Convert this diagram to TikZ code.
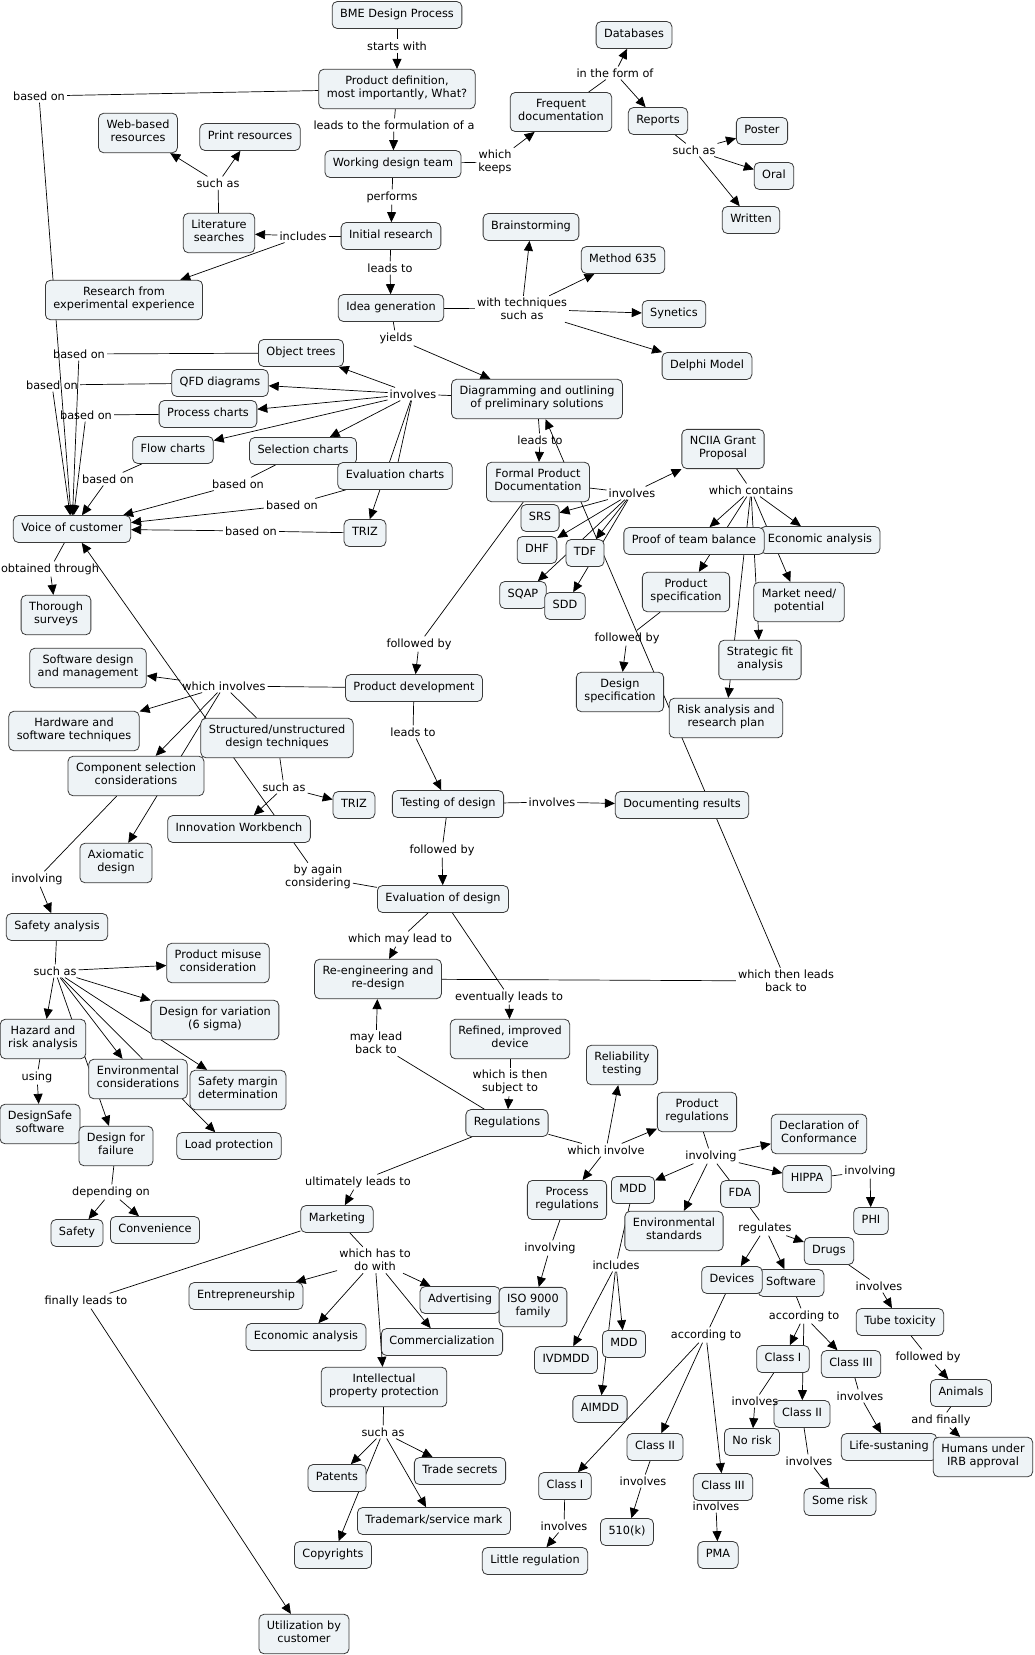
\documentclass[tikz,border=0pt]{standalone}
\usepackage{fontspec}
\setmainfont{DejaVu Sans}
\usetikzlibrary{arrows.meta}
\pgfdeclarelayer{bg}
\pgfsetlayers{bg,main}
\definecolor{cmapfill}{HTML}{EEF3F6}
\definecolor{cmapline}{HTML}{3A3A3A}

\begin{document}
\begin{tikzpicture}[x=1pt,y=-1pt]

\tikzset{concept/.style={draw=cmapline, fill=cmapfill, rounded corners=5pt, line width=0.8pt,
    align=center, inner xsep=8pt, inner ysep=6.8pt, font=\fontsize{11.3}{13.3}\selectfont,
    execute at begin node=\strut, execute at end node=\strut},
  link/.style={align=center, inner sep=2pt, font=\fontsize{11.3}{13.3}\selectfont},
  conn/.style={line width=0.7pt},
  arr/.style={conn, -{Triangle[length=10pt,width=9pt]}}}

\useasboundingbox (0,0) rectangle (1035,1655);

% concepts
\node[concept] (bme) at (397,15) {BME Design Process};
\node[concept] (proddef) at (397,89) {Product definition,\\most importantly, What?};
\node[concept] (team) at (393,164) {Working design team};
\node[concept] (freqdoc) at (561,112) {Frequent\\documentation};
\node[concept] (databases) at (634,35) {Databases};
\node[concept] (reports) at (658,121) {Reports};
\node[concept] (poster) at (762,131) {Poster};
\node[concept] (oral) at (774,176) {Oral};
\node[concept] (written) at (751,220) {Written};
\node[concept] (webres) at (138,133) {Web-based\\resources};
\node[concept] (printres) at (250,137) {Print resources};
\node[concept] (litsearch) at (219,233) {Literature\\searches};
\node[concept] (initres) at (391,236) {Initial research};
\node[concept] (expres) at (124,300) {Research from\\experimental experience};
\node[concept] (ideagen) at (391,308) {Idea generation};
\node[concept] (brainstorm) at (531,227) {Brainstorming};
\node[concept] (method) at (623,260) {Method 635};
\node[concept] (synetics) at (674,314) {Synetics};
\node[concept] (delphi) at (707,366) {Delphi Model};
\node[concept] (diagram) at (537,399) {Diagramming and outlining\\of preliminary solutions};
\node[concept] (objtrees) at (301,353) {Object trees};
\node[concept] (qfd) at (220,383) {QFD diagrams};
\node[concept] (procch) at (208,414) {Process charts};
\node[concept] (flowch) at (173,450) {Flow charts};
\node[concept] (selch) at (303,451) {Selection charts};
\node[concept] (evalch) at (395,476) {Evaluation charts};
\node[concept] (trizA) at (365,533) {TRIZ};
\node[concept] (voc) at (72,529) {Voice of customer};
\node[concept] (surveys) at (56,615) {Thorough\\surveys};
\node[concept] (formaldoc) at (538,482) {Formal Product\\Documentation};
\node[concept] (srs) at (540,518) {SRS};
\node[concept] (dhf) at (537,550) {DHF};
\node[concept] (tdf) at (585,553) {TDF};
\node[concept] (sqap) at (523,595) {SQAP};
\node[concept] (sdd) at (565,606) {SDD};
\node[concept] (nciia) at (723,449) {NCIIA Grant\\Proposal};
\node[concept] (econA) at (820,540) {Economic analysis};
\node[concept] (teambal) at (694,541) {Proof of team balance};
\node[concept] (prodspec) at (686,592) {Product\\specification};
\node[concept] (market) at (799,602) {Market need/\\potential};
\node[concept] (stratfit) at (760,660) {Strategic fit\\analysis};
\node[concept] (designspec) at (620,692) {Design\\specification};
\node[concept] (riskplan) at (726,718) {Risk analysis and\\research plan};
\node[concept] (proddev) at (414,688) {Product development};
\node[concept] (swdesign) at (88,668) {Software design\\and management};
\node[concept] (hwsw) at (74,731) {Hardware and\\software techniques};
\node[concept] (structd) at (277,738) {Structured/unstructured\\design techniques};
\node[concept] (compsel) at (136,776) {Component selection\\considerations};
\node[concept] (trizB) at (354,805) {TRIZ};
\node[concept] (innovwb) at (239,829) {Innovation Workbench};
\node[concept] (axiom) at (116,863) {Axiomatic\\design};
\node[concept] (safety) at (57,927) {Safety analysis};
\node[concept] (misuse) at (218,963) {Product misuse\\consideration};
\node[concept] (variation) at (215,1020) {Design for variation\\(6 sigma)};
\node[concept] (hazard) at (43,1039) {Hazard and\\risk analysis};
\node[concept] (envcons) at (138,1079) {Environmental\\considerations};
\node[concept] (safemargin) at (238,1090) {Safety margin\\determination};
\node[concept] (designsafe) at (40,1124) {DesignSafe\\software};
\node[concept] (dfail) at (116,1146) {Design for\\failure};
\node[concept] (loadprot) at (229,1146) {Load protection};
\node[concept] (safetyB) at (77,1233) {Safety};
\node[concept] (conven) at (155,1230) {Convenience};
\node[concept] (testing) at (448,804) {Testing of design};
\node[concept] (docres) at (682,805) {Documenting results};
\node[concept] (evaldes) at (443,899) {Evaluation of design};
\node[concept] (reeng) at (378,979) {Re-engineering and\\re-design};
\node[concept] (refined) at (510,1039) {Refined, improved\\device};
\node[concept] (reliab) at (622,1065) {Reliability\\testing};
\node[concept] (regs) at (507,1123) {Regulations};
\node[concept] (prodregs) at (697,1112) {Product\\regulations};
\node[concept] (declconf) at (819,1134) {Declaration of\\Conformance};
\node[concept] (hippa) at (807,1179) {HIPPA};
\node[concept] (phi) at (871,1221) {PHI};
\node[concept] (fda) at (740,1194) {FDA};
\node[concept] (mddA) at (633,1190) {MDD};
\node[concept] (procregs) at (567,1200) {Process\\regulations};
\node[concept] (envstd) at (674,1231) {Environmental\\standards};
\node[concept] (drugs) at (829,1251) {Drugs};
\node[concept] (software) at (791,1283) {Software};
\node[concept] (devices) at (732,1280) {Devices};
\node[concept] (tube) at (900,1322) {Tube toxicity};
\node[concept] (animals) at (961,1393) {Animals};
\node[concept] (swc1) at (783,1359) {Class I};
\node[concept] (swc3) at (851,1364) {Class III};
\node[concept] (swc2) at (802,1414) {Class II};
\node[concept] (norisk) at (752,1442) {No risk};
\node[concept] (somerisk) at (840,1502) {Some risk};
\node[concept] (lifesus) at (889,1447) {Life-sustaning};
\node[concept] (humans) at (983,1457) {Humans under\\IRB approval};
\node[concept] (devc3) at (723,1487) {Class III};
\node[concept] (pma) at (718,1555) {PMA};
\node[concept] (devc2) at (655,1447) {Class II};
\node[concept] (k510) at (627,1532) {510(k)};
\node[concept] (devc1) at (565,1486) {Class I};
\node[concept] (littlereg) at (535,1561) {Little regulation};
\node[concept] (advert) at (460,1300) {Advertising};
\node[concept] (iso) at (533,1307) {ISO 9000\\family};
\node[concept] (ivdmdd) at (566,1360) {IVDMDD};
\node[concept] (mddB) at (624,1344) {MDD};
\node[concept] (aimdd) at (600,1409) {AIMDD};
\node[concept] (marketing) at (337,1219) {Marketing};
\node[concept] (entre) at (246,1296) {Entrepreneurship};
\node[concept] (econB) at (306,1337) {Economic analysis};
\node[concept] (commerc) at (442,1342) {Commercialization};
\node[concept] (ipprot) at (384,1387) {Intellectual\\property protection};
\node[concept] (patents) at (337,1478) {Patents};
\node[concept] (tradesec) at (460,1471) {Trade secrets};
\node[concept] (trademark) at (434,1521) {Trademark/service mark};
\node[concept] (copyr) at (333,1555) {Copyrights};
\node[concept] (utiliz) at (304,1634) {Utilization by\\customer};

% linking phrases
\node[link] (lStarts) at (397,46) {starts with};
\node[link] (lFormul) at (394,125) {leads to the formulation of a};
\node[link] (lBasedTop) at (39,96) {based on};
\node[link] (lKeeps) at (495,162) {which\\keeps};
\node[link] (lForm) at (615,73) {in the form of};
\node[link] (lSuchRep) at (694,150) {such as};
\node[link] (lPerforms) at (392,197) {performs};
\node[link] (lSuchLit) at (218,183) {such as};
\node[link] (lIncludes) at (303,236) {includes};
\node[link] (lLeadsIdea) at (390,268) {leads to};
\node[link] (lTech) at (522,309) {with techniques\\such as};
\node[link] (lYields) at (396,338) {yields};
\node[link] (lInvDiag) at (413,394) {involves};
\node[link] (lBasedObj) at (79,354) {based on};
\node[link] (lBasedQfd) at (52,385) {based on};
\node[link] (lBasedProc) at (86,415) {based on};
\node[link] (lBasedFlow) at (108,479) {based on};
\node[link] (lBasedSel) at (238,484) {based on};
\node[link] (lBasedEval) at (292,505) {based on};
\node[link] (lBasedTriz) at (251,531) {based on};
\node[link] (lObtained) at (50,569) {obtained through};
\node[link] (lLeadsFormal) at (540,440) {leads to};
\node[link] (lInvFormal) at (632,493) {involves};
\node[link] (lContains) at (751,490) {which contains};
\node[link] (lFollSpec) at (627,638) {followed by};
\node[link] (lFollDev) at (419,644) {followed by};
\node[link] (lWhichInv) at (224,686) {which involves};
\node[link] (lSuchStr) at (284,787) {such as};
\node[link] (lInvolving) at (37,879) {involving};
\node[link] (lSuchSaf) at (55,971) {such as};
\node[link] (lUsing) at (37,1077) {using};
\node[link] (lDepend) at (111,1192) {depending on};
\node[link] (lLeadsTest) at (413,732) {leads to};
\node[link] (lInvTest) at (552,802) {involves};
\node[link] (lFollEval) at (442,850) {followed by};
\node[link] (lAgain) at (318,877) {by again\\considering};
\node[link] (lMayLead) at (400,939) {which may lead to};
\node[link] (lEventually) at (509,997) {eventually leads to};
\node[link] (lBack) at (786,981) {which then leads\\back to};
\node[link] (lMayBack) at (376,1043) {may lead\\back to};
\node[link] (lSubject) at (510,1082) {which is then\\subject to};
\node[link] (lInvolve) at (606,1150) {which involve};
\node[link] (lUltim) at (358,1182) {ultimately leads to};
\node[link] (lInvProd) at (711,1156) {involving};
\node[link] (lInvHippa) at (870,1171) {involving};
\node[link] (lRegulates) at (765,1228) {regulates};
\node[link] (lInvDrugs) at (879,1286) {involves};
\node[link] (lFollTube) at (928,1357) {followed by};
\node[link] (lFinally) at (941,1420) {and finally};
\node[link] (lAccSw) at (804,1316) {according to};
\node[link] (lInvSw1) at (755,1401) {involves};
\node[link] (lInvSw2) at (809,1461) {involves};
\node[link] (lInvSw3) at (860,1396) {involves};
\node[link] (lAccDev) at (706,1335) {according to};
\node[link] (lInvDev3) at (716,1506) {involves};
\node[link] (lInvDev2) at (643,1481) {involves};
\node[link] (lInvDev1) at (564,1526) {involves};
\node[link] (lInvProc) at (550,1248) {involving};
\node[link] (lIncMdd) at (616,1265) {includes};
\node[link] (lDoWith) at (375,1260) {which has to\\do with};
\node[link] (lSuchIp) at (383,1432) {such as};
\node[link] (lFinLeads) at (86,1301) {finally leads to};

% connectors, behind the boxes
\begin{pgfonlayer}{bg}
\fill[white] (0,0) rectangle (1035,1655);

\draw[conn] (bme) -- (lStarts); \draw[arr] (lStarts) -- (proddef);
\draw[conn] (proddef) -- (lFormul); \draw[arr] (lFormul) -- (team);
\draw[conn] (proddef) -- (lBasedTop); \draw[arr] (lBasedTop) -- (voc);
\draw[conn] (team) -- (lKeeps); \draw[arr] (lKeeps) -- (freqdoc);
\draw[conn] (freqdoc) -- (lForm);
\foreach \t in {databases,reports} \draw[arr] (lForm) -- (\t);
\draw[conn] (reports) -- (lSuchRep);
\foreach \t in {poster,oral,written} \draw[arr] (lSuchRep) -- (\t);
\draw[conn] (team) -- (lPerforms); \draw[arr] (lPerforms) -- (initres);
\draw[conn] (initres) -- (lIncludes);
\foreach \t in {litsearch,expres} \draw[arr] (lIncludes) -- (\t);
\draw[conn] (litsearch) -- (lSuchLit);
\foreach \t in {webres,printres} \draw[arr] (lSuchLit) -- (\t);
\draw[conn] (initres) -- (lLeadsIdea); \draw[arr] (lLeadsIdea) -- (ideagen);
\draw[conn] (ideagen) -- (lTech);
\foreach \t in {brainstorm,method,synetics,delphi} \draw[arr] (lTech) -- (\t);
\draw[conn] (ideagen) -- (lYields); \draw[arr] (lYields) -- (diagram);

% tools of the diagramming step
\draw[conn] (diagram) -- (lInvDiag);
\foreach \t in {objtrees,qfd,procch,flowch,selch,trizA} \draw[arr] (lInvDiag) -- (\t);
\draw[conn] (lInvDiag) -- (evalch);
\draw[conn] (objtrees) -- (lBasedObj); \draw[arr] (lBasedObj) -- (voc);
\draw[conn] (qfd) -- (lBasedQfd); \draw[arr] (lBasedQfd) -- (voc);
\draw[conn] (procch) -- (lBasedProc); \draw[arr] (lBasedProc) -- (voc);
\draw[conn] (flowch) -- (lBasedFlow); \draw[arr] (lBasedFlow) -- (voc);
\draw[conn] (selch) -- (lBasedSel); \draw[arr] (lBasedSel) -- (voc);
\draw[conn] (evalch) -- (lBasedEval); \draw[arr] (lBasedEval) -- (voc);
\draw[conn] (trizA) -- (lBasedTriz); \draw[arr] (lBasedTriz) -- (voc);
\draw[conn] (voc) -- (lObtained); \draw[arr] (lObtained) -- (surveys);

% documentation
\draw[conn] (diagram) -- (lLeadsFormal); \draw[arr] (lLeadsFormal) -- (formaldoc);
\draw[conn] (formaldoc) -- (lInvFormal);
\foreach \t in {srs,dhf,tdf,sqap,sdd,nciia} \draw[arr] (lInvFormal) -- (\t);
\draw[conn] (nciia) -- (lContains);
\foreach \t in {teambal,econA,prodspec,market,stratfit,riskplan} \draw[arr] (lContains) -- (\t);
\draw[conn] (prodspec) -- (lFollSpec); \draw[arr] (lFollSpec) -- (designspec);
\draw[conn] (formaldoc) -- (lFollDev); \draw[arr] (lFollDev) -- (proddev);

% development
\draw[conn] (proddev) -- (lWhichInv);
\foreach \t in {swdesign,hwsw,compsel,axiom} \draw[arr] (lWhichInv) -- (\t);
\draw[conn] (lWhichInv) -- (structd);
\draw[conn] (structd) -- (lSuchStr);
\foreach \t in {trizB,innovwb} \draw[arr] (lSuchStr) -- (\t);
\draw[conn] (compsel) -- (lInvolving); \draw[arr] (lInvolving) -- (safety);
\draw[conn] (safety) -- (lSuchSaf);
\foreach \t in {misuse,variation,hazard,envcons,safemargin,dfail,loadprot} \draw[arr] (lSuchSaf) -- (\t);
\draw[conn] (hazard) -- (lUsing); \draw[arr] (lUsing) -- (designsafe);
\draw[conn] (dfail) -- (lDepend);
\foreach \t in {safetyB,conven} \draw[arr] (lDepend) -- (\t);

% testing and evaluation
\draw[conn] (proddev) -- (lLeadsTest); \draw[arr] (lLeadsTest) -- (testing);
\draw[conn] (testing) -- (lInvTest); \draw[arr] (lInvTest) -- (docres);
\draw[conn] (testing) -- (lFollEval); \draw[arr] (lFollEval) -- (evaldes);
\draw[conn] (evaldes) -- (lAgain); \draw[arr] (lAgain) -- (voc);
\draw[conn] (evaldes) -- (lMayLead); \draw[arr] (lMayLead) -- (reeng);
\draw[conn] (evaldes) -- (lEventually); \draw[arr] (lEventually) -- (refined);
\draw[conn] (reeng) -- (lBack); \draw[arr] (lBack) -- (diagram);
\draw[conn] (refined) -- (lSubject); \draw[arr] (lSubject) -- (regs);
\draw[conn] (regs) -- (lMayBack); \draw[arr] (lMayBack) -- (reeng);

% regulations
\draw[conn] (regs) -- (lInvolve);
\foreach \t in {reliab,prodregs,procregs} \draw[arr] (lInvolve) -- (\t);
\draw[conn] (prodregs) -- (lInvProd);
\foreach \t in {declconf,hippa,mddA,envstd} \draw[arr] (lInvProd) -- (\t);
\draw[conn] (lInvProd) -- (fda);
\draw[conn] (hippa) -- (lInvHippa); \draw[arr] (lInvHippa) -- (phi);
\draw[conn] (fda) -- (lRegulates);
\foreach \t in {devices,software,drugs} \draw[arr] (lRegulates) -- (\t);
\draw[conn] (drugs) -- (lInvDrugs); \draw[arr] (lInvDrugs) -- (tube);
\draw[conn] (tube) -- (lFollTube); \draw[arr] (lFollTube) -- (animals);
\draw[conn] (animals) -- (lFinally); \draw[arr] (lFinally) -- (humans);
\draw[conn] (software) -- (lAccSw);
\foreach \t in {swc1,swc2,swc3} \draw[arr] (lAccSw) -- (\t);
\draw[conn] (swc1) -- (lInvSw1); \draw[arr] (lInvSw1) -- (norisk);
\draw[conn] (swc2) -- (lInvSw2); \draw[arr] (lInvSw2) -- (somerisk);
\draw[conn] (swc3) -- (lInvSw3); \draw[arr] (lInvSw3) -- (lifesus);
\draw[conn] (devices) -- (lAccDev);
\foreach \t in {devc1,devc2,devc3} \draw[arr] (lAccDev) -- (\t);
\draw[conn] (devc1) -- (lInvDev1); \draw[arr] (lInvDev1) -- (littlereg);
\draw[conn] (devc2) -- (lInvDev2); \draw[arr] (lInvDev2) -- (k510);
\draw[conn] (devc3) -- (lInvDev3); \draw[arr] (lInvDev3) -- (pma);
\draw[conn] (procregs) -- (lInvProc); \draw[arr] (lInvProc) -- (iso);
\draw[conn] (mddA) -- (lIncMdd);
\foreach \t in {ivdmdd,mddB,aimdd} \draw[arr] (lIncMdd) -- (\t);

% marketing
\draw[conn] (regs) -- (lUltim); \draw[arr] (lUltim) -- (marketing);
\draw[conn] (marketing) -- (lDoWith);
\foreach \t in {entre,econB,advert,commerc,ipprot} \draw[arr] (lDoWith) -- (\t);
\draw[conn] (ipprot) -- (lSuchIp);
\foreach \t in {patents,tradesec,trademark,copyr} \draw[arr] (lSuchIp) -- (\t);
\draw[conn] (marketing) -- (lFinLeads); \draw[arr] (lFinLeads) -- (utiliz);
\end{pgfonlayer}

\end{tikzpicture}
\end{document}
